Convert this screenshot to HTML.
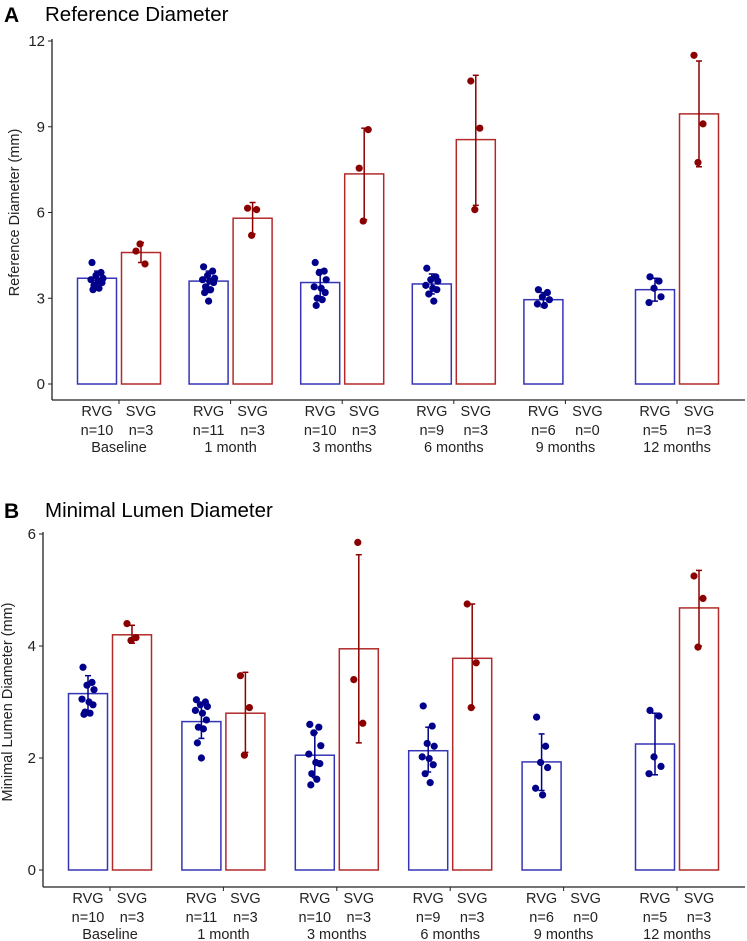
<!DOCTYPE html>
<html><head><meta charset="utf-8">
<style>
html,body{margin:0;padding:0;background:#fff;}
svg{display:block;font-family:"Liberation Sans",Arial,sans-serif;}
</style></head>
<body>
<svg id="chart" width="747" height="941" viewBox="0 0 747 941" xmlns="http://www.w3.org/2000/svg">
<text x="4" y="22" font-size="21" font-weight="bold">A</text>
<text x="45" y="21" font-size="20.5">Reference Diameter</text>
<text x="4" y="518" font-size="21" font-weight="bold">B</text>
<text x="45" y="517" font-size="20.5">Minimal Lumen Diameter</text>
</svg>
<script>
const categories = ["Baseline","1 month","3 months","6 months","9 months","12 months"];
const rvgN = [10,11,10,9,6,5];
const svgN = [3,3,3,3,0,3];
// Panel A: Reference diameter
const refRvgMean = [3.7,3.6,3.55,3.5,2.95,3.3];
const refSvgMean = [4.6,5.8,7.35,8.55,null,9.45];
const refRvgLo = [3.45,3.2,3.05,3.15,2.7,2.9];
const refRvgHi = [3.95,3.95,4.0,3.85,3.2,3.7];
const refSvgLo = [4.25,5.25,5.75,6.25,null,7.6];
const refSvgHi = [4.95,6.35,8.95,10.8,null,11.3];
const refRvgPts = [
 [4.25,3.9,3.8,3.7,3.65,3.6,3.55,3.45,3.35,3.3],
 [4.1,3.95,3.8,3.7,3.65,3.6,3.55,3.4,3.3,3.2,2.9],
 [4.25,3.95,3.9,3.65,3.4,3.35,3.2,3.0,2.95,2.75],
 [4.05,3.75,3.65,3.6,3.45,3.35,3.3,3.15,2.9],
 [3.3,3.2,3.05,2.95,2.8,2.75],
 [3.75,3.6,3.35,3.05,2.85]];
const refSvgPts = [[4.65,4.2,4.9],[6.15,6.1,5.2],[7.55,8.9,5.7],[10.6,8.95,6.1],[],[11.5,9.1,7.75]];
const refTicks = [0,3,6,9,12];
// Panel B: Minimal lumen diameter
const mldRvgMean = [3.15,2.65,2.05,2.13,1.93,2.25];
const mldSvgMean = [4.2,2.8,3.95,3.78,null,4.68];
const mldRvgLo = [2.82,2.35,1.65,1.75,1.42,1.7];
const mldRvgHi = [3.47,2.98,2.45,2.55,2.43,2.8];
const mldSvgLo = [4.05,2.1,2.27,2.9,null,4.0];
const mldSvgHi = [4.37,3.53,5.63,4.75,null,5.35];
const mldRvgPts = [
 [3.62,3.35,3.3,3.22,3.05,3.0,2.95,2.82,2.8,2.78],
 [3.04,3.0,2.95,2.92,2.85,2.8,2.68,2.55,2.52,2.27,2.0],
 [2.6,2.55,2.45,2.22,2.07,1.92,1.9,1.72,1.62,1.52],
 [2.93,2.57,2.26,2.21,2.02,1.99,1.88,1.72,1.56],
 [2.73,2.21,1.92,1.83,1.46,1.34],
 [2.85,2.75,2.02,1.85,1.72]];
const mldSvgPts = [[4.4,4.15,4.1],[3.47,2.9,2.05],[3.4,2.62,5.85],[4.75,3.7,2.9],[],[5.25,4.85,3.98]];
const mldTicks = [0,2,4,6];

const NS = "http://www.w3.org/2000/svg";
const svg = document.getElementById('chart');
function mk(tag, attrs, parent){
  const e = document.createElementNS(NS, tag);
  for (const k in attrs) e.setAttribute(k, attrs[k]);
  (parent||svg).appendChild(e);
  return e;
}
const jit = [-5,4,-1,6,-6,1,5,-3,2,-4,0];

function panel(p){
  const g = mk('g',{});
  
  
  const yS = v => p.y0 - (v - 0) / p.ymax * (p.y0 - p.yTop);
  const xS = i => p.x0 + i * p.step;
  const ya = mk('line',{x1:p.ax,y1:p.yTop-2,x2:p.ax,y2:p.axY,stroke:'#222','stroke-width':1.3},g);
  
  
  const xa = mk('line',{x1:p.ax,y1:p.axY,x2:745,y2:p.axY,stroke:'#222','stroke-width':1.3},g);
  
  
  p.ticks.forEach(t=>{
    mk('line',{x1:p.ax-4,y1:yS(t),x2:p.ax,y2:yS(t),stroke:'#222','stroke-width':1},g);
    const tx = mk('text',{x:p.ax-7,y:yS(t)+5,'font-size':15,'text-anchor':'end',fill:'#222'},g);
    tx.textContent = t;
    
    
  });
  const yt = mk('text',{x:0,y:0,'font-size':14.5,'text-anchor':'middle',fill:'#222',transform:`translate(${p.titleX},${(p.yTop+p.y0)/2}) rotate(-90)`},g);
  yt.textContent = p.ytitle;
  
  
  categories.forEach((c,i)=>{
    const cx = xS(i);
    mk('line',{x1:cx,y1:p.axY,x2:cx,y2:p.axY+4,stroke:'#222','stroke-width':1},g);
    [['RVG',-22,rvgN[i]],['SVG',22,svgN[i]]].forEach(([lab,off,n])=>{
      const t1 = mk('text',{x:cx+off,y:p.axY+16,'font-size':14.5,'text-anchor':'middle',fill:'#222'},g);
      t1.textContent = lab;
      
      
      const t2 = mk('text',{x:cx+off,y:p.axY+35,'font-size':14.5,'text-anchor':'middle',fill:'#222'},g);
      t2.textContent = 'n=' + n;
      
      
    });
    const t3 = mk('text',{x:cx,y:p.axY+52,'font-size':14.5,'text-anchor':'middle',fill:'#222'},g);
    t3.textContent = c;
    
    
    const series = [
      {off:-22,mean:p.rm[i],lo:p.rl[i],hi:p.rh[i],pts:p.rp[i],stroke:'#3535b5',pt:'#00008b',nm:'rvg'},
      {off:22,mean:p.sm[i],lo:p.sl[i],hi:p.sh[i],pts:p.sp[i],stroke:'#b22a2a',pt:'#8b0000',nm:'svg'}];
    series.forEach(s=>{
      if (s.mean===null) return;
      const bx = cx + s.off;
      const r = mk('rect',{x:bx-19.5,y:yS(s.mean),width:39,height:yS(0)-yS(s.mean),fill:'none',stroke:s.stroke,'stroke-width':1.5},g);
      
      
      const eg = mk('g',{stroke:s.pt,'stroke-width':1.5},g);
      
      
      mk('line',{x1:bx,y1:yS(s.lo),x2:bx,y2:yS(s.hi)},eg);
      mk('line',{x1:bx-3,y1:yS(s.lo),x2:bx+3,y2:yS(s.lo)},eg);
      mk('line',{x1:bx-3,y1:yS(s.hi),x2:bx+3,y2:yS(s.hi)},eg);
      s.pts.forEach((v,k)=>{
        const c2 = mk('circle',{cx:bx+jit[k%jit.length],cy:yS(v),r:3.6,fill:s.pt},g);
        
        
      });
    });
  });
}
panel({id:'reference-diameter',ax:52,yTop:41,y0:384,ymax:12,axY:400,x0:119,step:111.6,ticks:refTicks,titleX:19,
  ytitle:'Reference Diameter (mm)',rm:refRvgMean,sm:refSvgMean,rl:refRvgLo,rh:refRvgHi,sl:refSvgLo,sh:refSvgHi,rp:refRvgPts,sp:refSvgPts});
panel({id:'minimal-lumen-diameter',ax:43,yTop:534,y0:870,ymax:6,axY:887,x0:110,step:113.4,ticks:mldTicks,titleX:12,
  ytitle:'Minimal Lumen Diameter (mm)',rm:mldRvgMean,sm:mldSvgMean,rl:mldRvgLo,rh:mldRvgHi,sl:mldSvgLo,sh:mldSvgHi,rp:mldRvgPts,sp:mldSvgPts});
</script>
</body></html>
